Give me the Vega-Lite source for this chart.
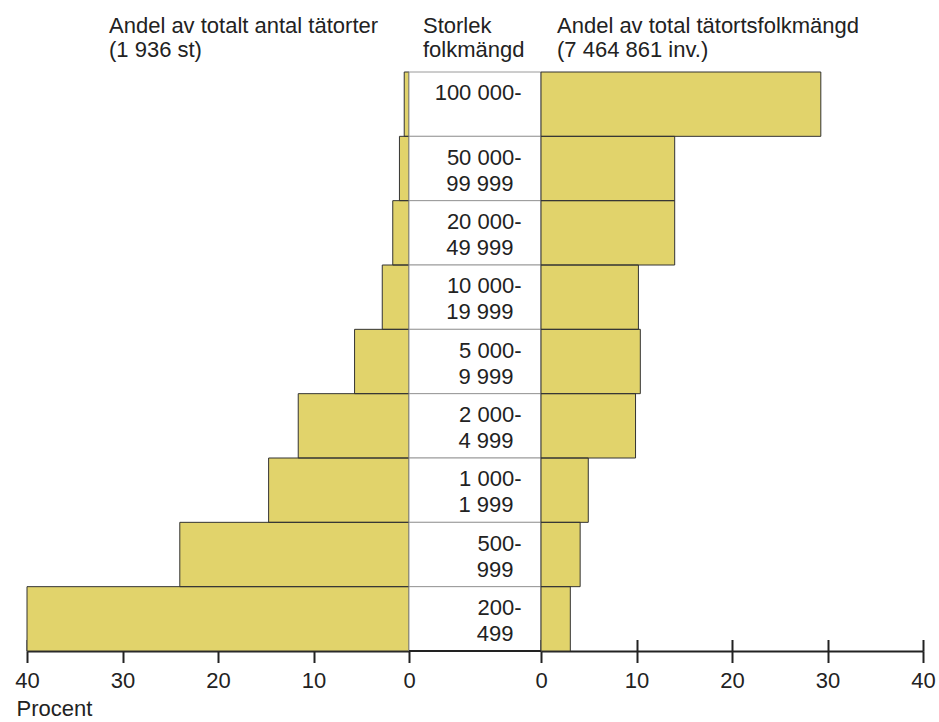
{
  "$schema": "https://vega.github.io/schema/vega-lite/v6.json",
  "autosize": {"type": "pad"},
  "padding": {"left": 14, "top": 14, "right": 0, "bottom": 0},
  "background": "white",
  "bounds": "flush",
  "spacing": 0,
  "config": {
    "view": {"stroke": null},
    "font": "Liberation Sans",
    "title": {"font": "Liberation Sans", "fontSize": 22, "fontWeight": "normal", "color": "#222222", "anchor": "start", "frame": "group", "lineHeight": 24, "baseline": "alphabetic"},
    "axis": {"labelFont": "Liberation Sans", "labelFontSize": 22, "labelColor": "#222222", "titleFont": "Liberation Sans", "titleFontSize": 22, "titleFontWeight": "normal", "titleColor": "#222222", "domainColor": "#222222", "tickColor": "#222222", "grid": false}
  },
  "datasets": {
    "tatorter": [
      {"storlek": "100 000-", "andel_tatorter": 0.5, "andel_folkmangd": 29.3},
      {"storlek": "50 000-99 999", "andel_tatorter": 1.0, "andel_folkmangd": 14.0},
      {"storlek": "20 000-49 999", "andel_tatorter": 1.7, "andel_folkmangd": 14.0},
      {"storlek": "10 000-19 999", "andel_tatorter": 2.8, "andel_folkmangd": 10.2},
      {"storlek": "5 000-9 999", "andel_tatorter": 5.7, "andel_folkmangd": 10.4},
      {"storlek": "2 000-4 999", "andel_tatorter": 11.6, "andel_folkmangd": 9.9},
      {"storlek": "1 000-1 999", "andel_tatorter": 14.7, "andel_folkmangd": 4.95},
      {"storlek": "500-999", "andel_tatorter": 24.0, "andel_folkmangd": 4.1},
      {"storlek": "200-499", "andel_tatorter": 40.0, "andel_folkmangd": 3.07}
    ]
  },
  "hconcat": [
    {
      "width": 382,
      "height": 579,
      "title": {"text": ["Andel av totalt antal tätorter", "(1 936 st)"], "dx": 82, "offset": 10},
      "data": {"name": "tatorter"},
      "encoding": {
        "y": {"field": "storlek", "type": "nominal", "sort": ["100 000-", "50 000-99 999", "20 000-49 999", "10 000-19 999", "5 000-9 999", "2 000-4 999", "1 000-1 999", "500-999", "200-499"], "scale": {"paddingInner": 0, "paddingOuter": 0}, "axis": null}
      },
      "layer": [
        {
          "mark": {"type": "bar", "fill": "#e1d36b", "strokeWidth": 0},
          "encoding": {
            "x": {"field": "andel_tatorter", "type": "quantitative", "scale": {"domain": [0, 40], "reverse": true, "nice": false},
              "axis": {"orient": "bottom", "values": [0, 10, 20, 30, 40], "tickSize": 11.5, "tickWidth": 2, "domainWidth": 2, "labelPadding": 8, "labelFlush": false, "labelOverlap": false, "title": "Procent", "titleX": -11, "titleY": 64, "titleAlign": "left", "titleBaseline": "alphabetic", "titleAnchor": null}}
          }
        },
        {
          "mark": {"type": "bar", "fill": "#e1d36b", "fillOpacity": 0, "stroke": "#333333", "strokeWidth": 1},
          "encoding": {
            "x": {"field": "andel_tatorter", "type": "quantitative",
              "axis": {"orient": "top", "offset": -579, "values": [0, 10, 20, 30, 40], "tickSize": 11.5, "tickWidth": 2, "labels": false, "domain": false, "title": null}}
          }
        }
      ]
    },
    {
      "width": 132,
      "height": 579,
      "title": {"text": ["Storlek", "folkmängd"], "dx": 14, "offset": 10},
      "layer": [
        {
          "data": {"name": "tatorter"},
          "mark": {"type": "rect", "fill": "white", "stroke": "#9a9a9a", "strokeWidth": 1},
          "encoding": {
            "y": {"field": "storlek", "type": "nominal", "sort": ["100 000-", "50 000-99 999", "20 000-49 999", "10 000-19 999", "5 000-9 999", "2 000-4 999", "1 000-1 999", "500-999", "200-499"], "scale": {"paddingInner": 0, "paddingOuter": 0},
              "axis": {"orient": "right", "ticks": false, "tickSize": 0, "domain": false, "labelAlign": "right", "labelPadding": -20, "labelBaseline": "middle", "labelOffset": -11, "labelExpr": "split(datum.label, '-')[0] + '-'", "title": null}},
            "x": {"value": 0},
            "x2": {"value": "width"}
          }
        },
        {
          "data": {"values": [{}]},
          "mark": {"type": "rule", "color": "#222222", "strokeWidth": 2},
          "encoding": {"x": {"value": 0}, "x2": {"value": "width"}, "y": {"value": "height"}}
        }
      ]
    },
    {
      "width": 382,
      "height": 579,
      "title": {"text": ["Andel av total tätortsfolkmängd", "(7 464 861 inv.)"], "dx": 16, "offset": 10},
      "data": {"name": "tatorter"},
      "encoding": {
        "y": {"field": "storlek", "type": "nominal", "sort": ["100 000-", "50 000-99 999", "20 000-49 999", "10 000-19 999", "5 000-9 999", "2 000-4 999", "1 000-1 999", "500-999", "200-499"], "scale": {"paddingInner": 0, "paddingOuter": 0},
          "axis": {"orient": "left", "ticks": false, "tickSize": 0, "domain": false, "labelAlign": "right", "labelPadding": 28, "labelBaseline": "middle", "labelOffset": 15, "labelExpr": "split(datum.label, '-')[1]", "title": null}}
      },
      "layer": [
        {
          "mark": {"type": "bar", "fill": "#e1d36b", "strokeWidth": 0},
          "encoding": {
            "x": {"field": "andel_folkmangd", "type": "quantitative", "scale": {"domain": [0, 40], "nice": false},
              "axis": {"orient": "bottom", "values": [0, 10, 20, 30, 40], "tickSize": 11.5, "tickWidth": 2, "domainWidth": 2, "labelPadding": 8, "labelFlush": false, "labelOverlap": false, "title": null}}
          }
        },
        {
          "mark": {"type": "bar", "fill": "#e1d36b", "fillOpacity": 0, "stroke": "#333333", "strokeWidth": 1},
          "encoding": {
            "x": {"field": "andel_folkmangd", "type": "quantitative",
              "axis": {"orient": "top", "offset": -579, "values": [0, 10, 20, 30, 40], "tickSize": 11.5, "tickWidth": 2, "labels": false, "domain": false, "title": null}}
          }
        }
      ]
    }
  ]
}
